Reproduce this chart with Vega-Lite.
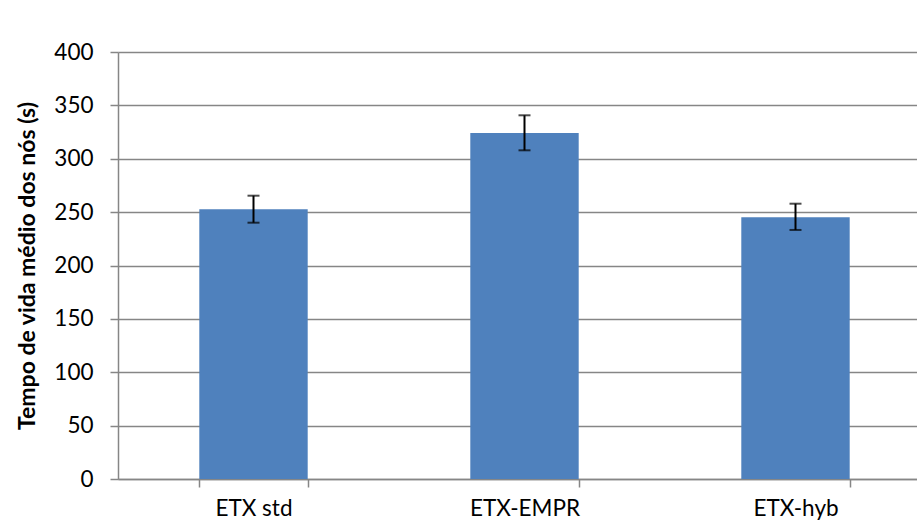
{
  "$schema": "https://vega.github.io/schema/vega-lite/v6.json",
  "autosize": "none",
  "padding": {"left": 118, "top": 52, "right": 0, "bottom": 60},
  "width": 813,
  "height": 427,
  "background": "white",
  "config": {
    "font": "Lato",
    "view": {"stroke": null},
    "axis": {"labelFont": "Lato", "titleFont": "Lato", "labelColor": "black", "titleColor": "black"}
  },
  "data": {
    "values": [
      {"cat": "ETX std", "value": 252.6, "lo": 240.1, "hi": 265.4},
      {"cat": "ETX-EMPR", "value": 324.2, "lo": 307.9, "hi": 340.7},
      {"cat": "ETX-hyb", "value": 245.3, "lo": 233.3, "hi": 257.9}
    ]
  },
  "encoding": {
    "x": {
      "field": "cat",
      "type": "nominal",
      "sort": null,
      "scale": {"paddingInner": 0.6, "paddingOuter": 0.3},
      "axis": {
        "title": null,
        "labelAngle": 0,
        "labelFontSize": 22.5,
        "tickBand": "extent",
        "ticks": true,
        "tickSize": 8,
        "tickColor": "#868686",
        "tickWidth": 1.5,
        "domainColor": "#868686",
        "domainWidth": 1.5,
        "labelPadding": 10,
        "grid": false
      }
    }
  },
  "layer": [
    {
      "mark": {"type": "bar", "color": "#4F81BD"},
      "encoding": {
        "y": {
          "field": "value",
          "type": "quantitative",
          "scale": {"domain": [0, 400], "nice": false},
          "axis": {
            "title": "Tempo de vida médio dos nós (s)",
            "titleFontSize": 23,
            "titleFontWeight": "bold",
            "titlePadding": 14,
            "values": [0, 50, 100, 150, 200, 250, 300, 350, 400],
            "labelFontSize": 22.5,
            "tickSize": 8,
            "tickColor": "#868686",
            "tickWidth": 1.5,
            "domainColor": "#868686",
            "domainWidth": 1.5,
            "labelPadding": 17,
            "grid": true,
            "gridColor": "#868686",
            "gridWidth": 1.5
          }
        }
      }
    },
    {
      "mark": {"type": "rule", "color": "black", "strokeWidth": 2},
      "encoding": {
        "y": {"field": "lo", "type": "quantitative"},
        "y2": {"field": "hi"}
      }
    },
    {
      "mark": {"type": "tick", "color": "black", "size": 12, "thickness": 2},
      "encoding": {"y": {"field": "lo", "type": "quantitative"}}
    },
    {
      "mark": {"type": "tick", "color": "black", "size": 12, "thickness": 2},
      "encoding": {"y": {"field": "hi", "type": "quantitative"}}
    }
  ]
}
